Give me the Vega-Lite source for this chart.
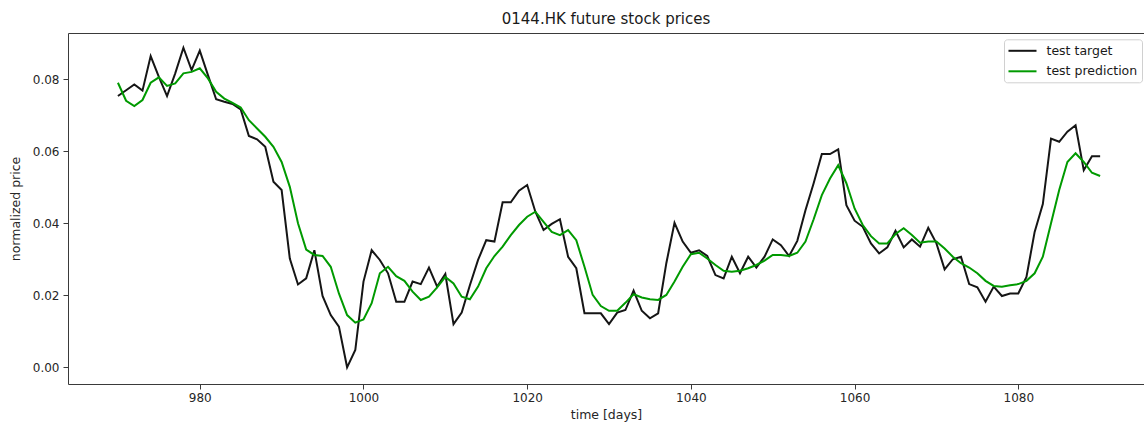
{
  "$schema": "https://vega.github.io/schema/vega-lite/v6.json",
  "width": 1076,
  "height": 351,
  "autosize": {"type": "none"},
  "padding": {"left": 68, "top": 33, "right": 0, "bottom": 39},
  "background": "white",
  "title": {"text": "0144.HK future stock prices", "font": "DejaVu Sans", "fontSize": 15, "fontWeight": "normal", "color": "#1a1a1a", "anchor": "middle", "offset": 6},
  "config": {
    "view": {"stroke": "#3a3a3a", "strokeWidth": 1},
    "axis": {"labelFont": "DejaVu Sans", "titleFont": "DejaVu Sans", "labelFontSize": 12, "titleFontSize": 12.5, "titleFontWeight": "normal", "labelColor": "#262626", "titleColor": "#262626", "tickColor": "#3a3a3a", "tickSize": 5, "domain": false, "grid": false}
  },
  "data": {"values": [
    {"day":970,"test target":0.0753,"test prediction":0.0790},
    {"day":971,"test target":0.0769,"test prediction":0.0740},
    {"day":972,"test target":0.0785,"test prediction":0.0725},
    {"day":973,"test target":0.0768,"test prediction":0.0742},
    {"day":974,"test target":0.0864,"test prediction":0.0790},
    {"day":975,"test target":0.0806,"test prediction":0.0805},
    {"day":976,"test target":0.0753,"test prediction":0.0781},
    {"day":977,"test target":0.0816,"test prediction":0.0788},
    {"day":978,"test target":0.0887,"test prediction":0.0816},
    {"day":979,"test target":0.0825,"test prediction":0.0820},
    {"day":980,"test target":0.0879,"test prediction":0.0830},
    {"day":981,"test target":0.0811,"test prediction":0.0802},
    {"day":982,"test target":0.0744,"test prediction":0.0765},
    {"day":983,"test target":0.0737,"test prediction":0.0746},
    {"day":984,"test target":0.0731,"test prediction":0.0734},
    {"day":985,"test target":0.0716,"test prediction":0.0721},
    {"day":986,"test target":0.0642,"test prediction":0.0686},
    {"day":987,"test target":0.0633,"test prediction":0.0663},
    {"day":988,"test target":0.0612,"test prediction":0.0640},
    {"day":989,"test target":0.0515,"test prediction":0.0612},
    {"day":990,"test target":0.0492,"test prediction":0.0570},
    {"day":991,"test target":0.0302,"test prediction":0.0501},
    {"day":992,"test target":0.0230,"test prediction":0.0400},
    {"day":993,"test target":0.0247,"test prediction":0.0327},
    {"day":994,"test target":0.0325,"test prediction":0.0312},
    {"day":995,"test target":0.0198,"test prediction":0.0309},
    {"day":996,"test target":0.0145,"test prediction":0.0279},
    {"day":997,"test target":0.0113,"test prediction":0.0205},
    {"day":998,"test target":0.0000,"test prediction":0.0145},
    {"day":999,"test target":0.0048,"test prediction":0.0124},
    {"day":1000,"test target":0.0238,"test prediction":0.0133},
    {"day":1001,"test target":0.0325,"test prediction":0.0178},
    {"day":1002,"test target":0.0298,"test prediction":0.0261},
    {"day":1003,"test target":0.0261,"test prediction":0.0279},
    {"day":1004,"test target":0.0182,"test prediction":0.0253},
    {"day":1005,"test target":0.0182,"test prediction":0.0240},
    {"day":1006,"test target":0.0238,"test prediction":0.0210},
    {"day":1007,"test target":0.0231,"test prediction":0.0187},
    {"day":1008,"test target":0.0277,"test prediction":0.0196},
    {"day":1009,"test target":0.0224,"test prediction":0.0222},
    {"day":1010,"test target":0.0259,"test prediction":0.0251},
    {"day":1011,"test target":0.0120,"test prediction":0.0233},
    {"day":1012,"test target":0.0152,"test prediction":0.0196},
    {"day":1013,"test target":0.0228,"test prediction":0.0189},
    {"day":1014,"test target":0.0298,"test prediction":0.0224},
    {"day":1015,"test target":0.0353,"test prediction":0.0275},
    {"day":1016,"test target":0.0349,"test prediction":0.0309},
    {"day":1017,"test target":0.0458,"test prediction":0.0335},
    {"day":1018,"test target":0.0458,"test prediction":0.0367},
    {"day":1019,"test target":0.0490,"test prediction":0.0395},
    {"day":1020,"test target":0.0506,"test prediction":0.0418},
    {"day":1021,"test target":0.0432,"test prediction":0.0432},
    {"day":1022,"test target":0.0381,"test prediction":0.0404},
    {"day":1023,"test target":0.0398,"test prediction":0.0376},
    {"day":1024,"test target":0.0411,"test prediction":0.0367},
    {"day":1025,"test target":0.0307,"test prediction":0.0381},
    {"day":1026,"test target":0.0275,"test prediction":0.0353},
    {"day":1027,"test target":0.0150,"test prediction":0.0279},
    {"day":1028,"test target":0.0150,"test prediction":0.0201},
    {"day":1029,"test target":0.0150,"test prediction":0.0170},
    {"day":1030,"test target":0.0120,"test prediction":0.0157},
    {"day":1031,"test target":0.0152,"test prediction":0.0157},
    {"day":1032,"test target":0.0159,"test prediction":0.0179},
    {"day":1033,"test target":0.0213,"test prediction":0.0203},
    {"day":1034,"test target":0.0157,"test prediction":0.0194},
    {"day":1035,"test target":0.0136,"test prediction":0.0189},
    {"day":1036,"test target":0.0150,"test prediction":0.0187},
    {"day":1037,"test target":0.0289,"test prediction":0.0201},
    {"day":1038,"test target":0.0401,"test prediction":0.0238},
    {"day":1039,"test target":0.0349,"test prediction":0.0279},
    {"day":1040,"test target":0.0318,"test prediction":0.0314},
    {"day":1041,"test target":0.0325,"test prediction":0.0318},
    {"day":1042,"test target":0.0309,"test prediction":0.0302},
    {"day":1043,"test target":0.0256,"test prediction":0.0284},
    {"day":1044,"test target":0.0247,"test prediction":0.0268},
    {"day":1045,"test target":0.0307,"test prediction":0.0265},
    {"day":1046,"test target":0.0261,"test prediction":0.0268},
    {"day":1047,"test target":0.0307,"test prediction":0.0275},
    {"day":1048,"test target":0.0277,"test prediction":0.0284},
    {"day":1049,"test target":0.0307,"test prediction":0.0296},
    {"day":1050,"test target":0.0355,"test prediction":0.0312},
    {"day":1051,"test target":0.0339,"test prediction":0.0312},
    {"day":1052,"test target":0.0309,"test prediction":0.0309},
    {"day":1053,"test target":0.0351,"test prediction":0.0318},
    {"day":1054,"test target":0.0436,"test prediction":0.0349},
    {"day":1055,"test target":0.0511,"test prediction":0.0411},
    {"day":1056,"test target":0.0592,"test prediction":0.0478},
    {"day":1057,"test target":0.0592,"test prediction":0.0524},
    {"day":1058,"test target":0.0605,"test prediction":0.0561},
    {"day":1059,"test target":0.0450,"test prediction":0.0511},
    {"day":1060,"test target":0.0407,"test prediction":0.0441},
    {"day":1061,"test target":0.0390,"test prediction":0.0395},
    {"day":1062,"test target":0.0344,"test prediction":0.0364},
    {"day":1063,"test target":0.0316,"test prediction":0.0344},
    {"day":1064,"test target":0.0333,"test prediction":0.0344},
    {"day":1065,"test target":0.0379,"test prediction":0.0370},
    {"day":1066,"test target":0.0333,"test prediction":0.0386},
    {"day":1067,"test target":0.0355,"test prediction":0.0367},
    {"day":1068,"test target":0.0335,"test prediction":0.0346},
    {"day":1069,"test target":0.0387,"test prediction":0.0349},
    {"day":1070,"test target":0.0344,"test prediction":0.0349},
    {"day":1071,"test target":0.0272,"test prediction":0.0330},
    {"day":1072,"test target":0.0300,"test prediction":0.0307},
    {"day":1073,"test target":0.0307,"test prediction":0.0289},
    {"day":1074,"test target":0.0231,"test prediction":0.0277},
    {"day":1075,"test target":0.0222,"test prediction":0.0261},
    {"day":1076,"test target":0.0182,"test prediction":0.0240},
    {"day":1077,"test target":0.0224,"test prediction":0.0226},
    {"day":1078,"test target":0.0198,"test prediction":0.0224},
    {"day":1079,"test target":0.0205,"test prediction":0.0228},
    {"day":1080,"test target":0.0205,"test prediction":0.0231},
    {"day":1081,"test target":0.0251,"test prediction":0.0240},
    {"day":1082,"test target":0.0376,"test prediction":0.0261},
    {"day":1083,"test target":0.0453,"test prediction":0.0307},
    {"day":1084,"test target":0.0635,"test prediction":0.0400},
    {"day":1085,"test target":0.0626,"test prediction":0.0492},
    {"day":1086,"test target":0.0654,"test prediction":0.0570},
    {"day":1087,"test target":0.0672,"test prediction":0.0594},
    {"day":1088,"test target":0.0547,"test prediction":0.0570},
    {"day":1089,"test target":0.0586,"test prediction":0.0540},
    {"day":1090,"test target":0.0586,"test prediction":0.0531}
  ]},
  "transform": [{"fold": ["test target", "test prediction"], "as": ["series", "price"]}],
  "mark": {"type": "line", "strokeWidth": 2, "interpolate": "linear"},
  "encoding": {
    "x": {"field": "day", "type": "quantitative", "scale": {"domain": [963.9, 1095.36], "nice": false, "zero": false},
      "axis": {"values": [980, 1000, 1020, 1040, 1060, 1080], "format": "d", "title": "time [days]", "labelPadding": 3, "titlePadding": 5}},
    "y": {"field": "price", "type": "quantitative", "scale": {"domain": [-0.00463, 0.0928], "nice": false, "zero": false},
      "axis": {"values": [0, 0.02, 0.04, 0.06, 0.08], "format": ".2f", "title": "normalized price", "labelPadding": 4, "titlePadding": 10}},
    "color": {"field": "series", "type": "nominal",
      "scale": {"domain": ["test target", "test prediction"], "range": ["#151515", "#009a00"]},
      "legend": {"orient": "none", "legendX": 936, "legendY": 6.3, "title": null, "symbolType": "M-1.17,0H3.5", "symbolStrokeWidth": 2, "symbolSize": 144,
        "labelFont": "DejaVu Sans", "labelFontSize": 12.5, "labelColor": "#1a1a1a", "labelOffset": 24,
        "strokeColor": "#d0d0d0", "fillColor": "white", "cornerRadius": 3, "padding": 4.5, "rowPadding": 6.5}}
  }
}
